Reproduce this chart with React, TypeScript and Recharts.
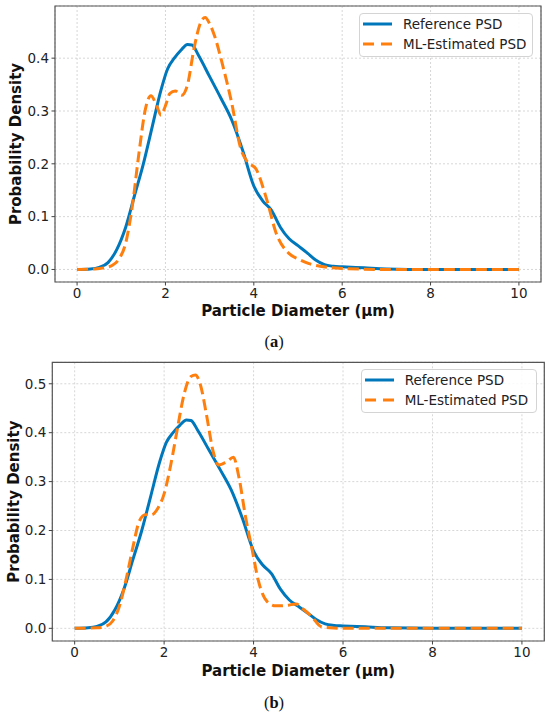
import { LineChart, Line, XAxis, YAxis, CartesianGrid, Legend, Label, ReferenceArea } from "recharts"

// reference PSD (same curve in both panels)
const refDiameter = [0, 0.3, 0.5, 0.7, 0.9, 1.1, 1.3, 1.5, 1.7, 1.9, 2.05, 2.2, 2.35, 2.5, 2.6, 2.75, 3.0, 3.25, 3.5, 3.75, 4.0, 4.2, 4.4, 4.6, 4.8, 5.0, 5.2, 5.4, 5.6, 5.8, 6.0, 6.5, 7.0, 8.0, 10.0]
const refDensity = [0, 0.001, 0.004, 0.013, 0.038, 0.08, 0.14, 0.2, 0.27, 0.34, 0.38, 0.4, 0.415, 0.426, 0.425, 0.405, 0.365, 0.325, 0.283, 0.225, 0.158, 0.13, 0.112, 0.08, 0.058, 0.045, 0.032, 0.018, 0.009, 0.006, 0.005, 0.003, 0.001, 0, 0]

// ML estimate, panel (a)
const mlDiameterA = [0, 0.4, 0.6, 0.8, 0.95, 1.1, 1.25, 1.4, 1.55, 1.67, 1.8, 1.9, 2.0, 2.1, 2.22, 2.37, 2.5, 2.65, 2.8, 2.9, 3.0, 3.1, 3.3, 3.5, 3.7, 3.85, 4.05, 4.3, 4.5, 4.8, 5.0, 5.25, 5.5, 6.0, 7.0, 10.0]
const mlDensityA = [0, 0.001, 0.003, 0.008, 0.02, 0.05, 0.12, 0.22, 0.305, 0.329, 0.31, 0.292, 0.31, 0.333, 0.338, 0.33, 0.35, 0.42, 0.468, 0.477, 0.465, 0.445, 0.385, 0.315, 0.23, 0.204, 0.19, 0.13, 0.07, 0.03, 0.02, 0.011, 0.006, 0.002, 0, 0]

// ML estimate, panel (b)
const mlDiameterB = [0, 0.5, 0.7, 0.85, 1.0, 1.15, 1.3, 1.45, 1.58, 1.72, 1.85, 2.0, 2.15, 2.3, 2.45, 2.6, 2.7, 2.82, 2.95, 3.1, 3.22, 3.4, 3.55, 3.67, 3.82, 3.97, 4.1, 4.3, 4.5, 4.75, 4.95, 5.1, 5.3, 5.5, 5.7, 6.0, 10.0]
const mlDensityB = [0, 0.001, 0.004, 0.015, 0.045, 0.1, 0.165, 0.22, 0.232, 0.232, 0.244, 0.275, 0.335, 0.41, 0.48, 0.515, 0.518, 0.495, 0.435, 0.36, 0.334, 0.341, 0.35, 0.31, 0.228, 0.16, 0.1, 0.055, 0.046, 0.047, 0.05, 0.04, 0.024, 0.004, 0.001, 0, 0]

const xTicks = [0, 2, 4, 6, 8, 10]
const yTicksA = [0, 0.1, 0.2, 0.3, 0.4]
const yTicksB = [0, 0.1, 0.2, 0.3, 0.4, 0.5]

const BLUE = "#0077BB"
const ORANGE = "#FF7F0E"
const SANS = "DejaVu Sans"

const toPoints = (xs: number[], ys: number[]) => xs.map((x, i) => ({ x, y: ys[i] }))

function LegendBox() {
  const row = { display: "flex", alignItems: "center", height: 20 }
  return (
    <div
      style={{
        boxSizing: "border-box",
        height: "100%",
        border: "1px solid #d4d4d4",
        borderRadius: 4,
        background: "rgba(255,255,255,0.85)",
        padding: "0 0 0 3px",
        fontFamily: SANS,
        fontSize: 13.5,
        color: "#222",
      }}
    >
      <div style={row}>
        <svg width={29} height={6}>
          <line x1={0} y1={3} x2={29} y2={3} stroke={BLUE} strokeWidth={3} />
        </svg>
        <span style={{ marginLeft: 11 }}>Reference PSD</span>
      </div>
      <div style={row}>
        <svg width={29} height={6}>
          <line x1={0} y1={3} x2={29} y2={3} stroke={ORANGE} strokeWidth={3} strokeDasharray="11 7" />
        </svg>
        <span style={{ marginLeft: 11 }}>ML-Estimated PSD</span>
      </div>
    </div>
  )
}

type PanelProps = {
  ml: { x: number; y: number }[]
  yDomain: [number, number]
  yTicks: number[]
  height: number
  margin: { top: number; right: number; bottom: number; left: number }
  yAxisWidth: number
  yTitleOffset: number
  xTitleOffset: number
  legendPos: { left: number; top: number; width: number; height: number }
}

function Panel({ ml, yDomain, yTicks, height, margin, yAxisWidth, yTitleOffset, xTitleOffset, legendPos }: PanelProps) {
  const tickStyle = { fontFamily: SANS, fontSize: 13.5, fill: "#222" }
  const titleStyle = { fontFamily: SANS, fontSize: 15, fontWeight: "bold", fill: "#111" }
  return (
    <LineChart width={550} height={height} margin={margin}>
      <CartesianGrid stroke="#cdcdcd" strokeDasharray="2 2" strokeWidth={0.8} />
      <XAxis
        dataKey="x"
        type="number"
        domain={[-0.5, 10.5]}
        ticks={xTicks}
        allowDataOverflow
        height={40}
        tickSize={3.5}
        tickMargin={3}
        tick={tickStyle}
        axisLine={false}
        tickLine={{ stroke: "#444" }}
      >
        <Label value="Particle Diameter (µm)" position="insideBottom" offset={xTitleOffset} style={titleStyle} />
      </XAxis>
      <YAxis
        type="number"
        domain={yDomain}
        ticks={yTicks}
        allowDataOverflow
        width={yAxisWidth}
        tickSize={3.5}
        tickMargin={2.5}
        tick={tickStyle}
        tickFormatter={(v: number) => v.toFixed(1)}
        axisLine={false}
        tickLine={{ stroke: "#444" }}
      >
        <Label
          value="Probability Density"
          angle={-90}
          position="insideLeft"
          offset={yTitleOffset}
          style={{ ...titleStyle, textAnchor: "middle" }}
        />
      </YAxis>
      <ReferenceArea x1={-0.5} x2={10.5} y1={yDomain[0]} y2={yDomain[1]} fill="none" stroke="#555" strokeWidth={1.2} />
      <Line
        data={toPoints(refDiameter, refDensity)}
        dataKey="y"
        type="monotone"
        stroke={BLUE}
        strokeWidth={3}
        dot={false}
        activeDot={false}
        isAnimationActive={false}
        name="Reference PSD"
      />
      <Line
        data={ml}
        dataKey="y"
        type="monotone"
        stroke={ORANGE}
        strokeWidth={3}
        strokeDasharray="11 5"
        dot={false}
        activeDot={false}
        isAnimationActive={false}
        name="ML-Estimated PSD"
      />
      <Legend
        layout="vertical"
        align="center"
        verticalAlign="middle"
        content={() => <LegendBox />}
        wrapperStyle={{ ...legendPos }}
      />
    </LineChart>
  )
}

const captionStyle = {
  position: "absolute" as const,
  left: 0,
  width: 548,
  height: 18,
  lineHeight: "18px",
  textAlign: "center" as const,
  fontFamily: "Liberation Serif",
  fontSize: 16.5,
  color: "#111",
}

export default function App() {
  return (
    <div style={{ position: "absolute", left: 0, top: 0, width: 550, height: 714, background: "#fff" }}>
      <div style={{ position: "absolute", left: 0, top: 0 }}>
        <Panel
          ml={toPoints(mlDiameterA, mlDensityA)}
          yDomain={[-0.02375, 0.49875]}
          yTicks={yTicksA}
          height={330}
          margin={{ top: 6, right: 9, bottom: 8, left: 0 }}
          yAxisWidth={55}
          yTitleOffset={16}
          xTitleOffset={6}
          legendPos={{ left: 359, top: 13, width: 174, height: 44 }}
        />
      </div>
      <div style={{ ...captionStyle, top: 333 }}>
        (<b>a</b>)
      </div>
      <div style={{ position: "absolute", left: 0, top: 350 }}>
        <Panel
          ml={toPoints(mlDiameterB, mlDensityB)}
          yDomain={[-0.0259, 0.5439]}
          yTicks={yTicksB}
          height={364}
          margin={{ top: 12.3, right: 5.7, bottom: 33, left: 0 }}
          yAxisWidth={52.3}
          yTitleOffset={14}
          xTitleOffset={5.5}
          legendPos={{ left: 360.7, top: 19, width: 176, height: 44 }}
        />
      </div>
      <div style={{ ...captionStyle, top: 694 }}>
        (<b>b</b>)
      </div>
    </div>
  )
}
